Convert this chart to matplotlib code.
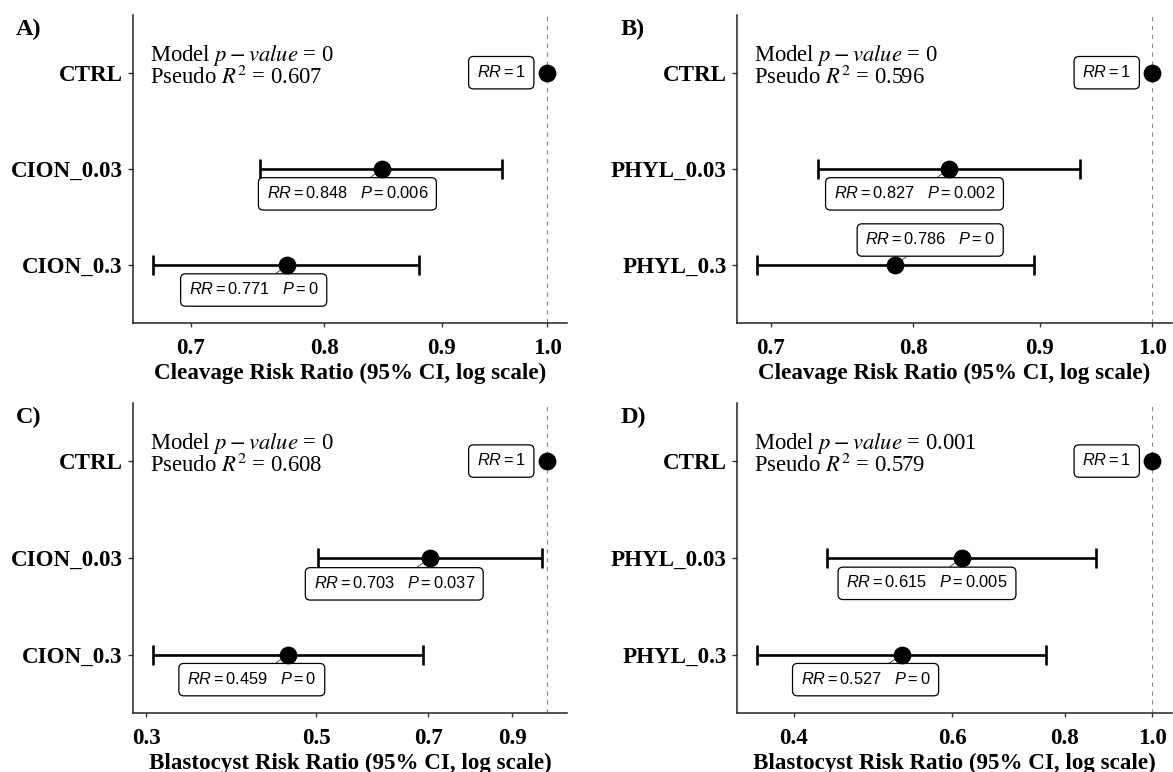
import numpy as np
import matplotlib
matplotlib.use("Agg")
import matplotlib.pyplot as plt
from matplotlib.ticker import FixedLocator, FixedFormatter, NullLocator

plt.rcParams['font.family'] = ['Liberation Serif', 'DejaVu Serif']
plt.rcParams['mathtext.fontset'] = 'custom'
plt.rcParams['mathtext.rm'] = 'Liberation Sans'
plt.rcParams['mathtext.it'] = 'Liberation Sans:italic'
plt.rcParams['mathtext.bf'] = 'Liberation Sans:bold'

# ---------------- data ----------------
panel_tags = ['A)', 'B)', 'C)', 'D)']

cats_A = ['CTRL', 'CION_0.03', 'CION_0.3']
rr_A = [1, 0.848, 0.771]
lo_A = [1, 0.750, 0.674]
hi_A = [1, 0.956, 0.880]
p_A = [None, 0.006, 0]

cats_B = ['CTRL', 'PHYL_0.03', 'PHYL_0.3']
rr_B = [1, 0.827, 0.786]
lo_B = [1, 0.732, 0.691]
hi_B = [1, 0.935, 0.895]
p_B = [None, 0.002, 0]

cats_C = ['CTRL', 'CION_0.03', 'CION_0.3']
rr_C = [1, 0.703, 0.459]
lo_C = [1, 0.502, 0.306]
hi_C = [1, 0.985, 0.689]
p_C = [None, 0.037, 0]

cats_D = ['CTRL', 'PHYL_0.03', 'PHYL_0.3']
rr_D = [1, 0.615, 0.527]
lo_D = [1, 0.436, 0.364]
hi_D = [1, 0.867, 0.763]
p_D = [None, 0.005, 0]

model_p = [0, 0, 0, 0.001]
pseudo_r2 = [0.607, 0.596, 0.608, 0.579]

xlabels = ['Cleavage Risk Ratio (95% CI, log scale)',
           'Cleavage Risk Ratio (95% CI, log scale)',
           'Blastocyst Risk Ratio (95% CI, log scale)',
           'Blastocyst Risk Ratio (95% CI, log scale)']

xticks_A = [0.7, 0.8, 0.9, 1.0]
xticks_B = [0.7, 0.8, 0.9, 1.0]
xticks_C = [0.3, 0.5, 0.7, 0.9]
xticks_D = [0.4, 0.6, 0.8, 1.0]

# ---------------- styling / layout ----------------
W, H = 1173, 772
fig = plt.figure(figsize=(W / 100, H / 100), dpi=100)

axes_px = [(133, 15, 567, 322.7), (737, 15, 1172, 322.7),
           (133, 403, 567, 712.7), (737, 403, 1172, 712.7)]
tag_px = [(16, 35), (621, 35), (16, 423), (621, 423)]
# label offsets in pixels (dx, dy with y down)
offsets = [
    [(-46, 0), (-35, 25), (-33.5, 25)],
    [(-45.5, 0), (-34.5, 25), (35.6, -25)],
    [(-46, 0), (-35.6, 26), (-36, 25)],
    [(-45.5, 0), (-35, 25.5), (-36, 25)],
]

panels = [
    (cats_A, rr_A, lo_A, hi_A, p_A, xticks_A),
    (cats_B, rr_B, lo_B, hi_B, p_B, xticks_B),
    (cats_C, rr_C, lo_C, hi_C, p_C, xticks_C),
    (cats_D, rr_D, lo_D, hi_D, p_D, xticks_D),
]

bold_size = 16.6
spine_col = '#222222'

for i, (cats, rr, lo, hi, pv, xt) in enumerate(panels):
    l, t, r, b = axes_px[i]
    ax = fig.add_axes([l / W, 1 - b / H, (r - l) / W, (b - t) / H])
    n = len(cats)
    y = np.arange(n, 0, -1)  # CTRL on top
    rr = np.array(rr, float)
    lo = np.array(lo, float)
    hi = np.array(hi, float)

    ax.set_xscale('log')
    # ggplot-like 5% expansion in log space
    lmin = np.log(min(lo.min(), rr.min()))
    lmax = np.log(max(hi.max(), rr.max()))
    ext = 0.05 * (lmax - lmin)
    ax.set_xlim(np.exp(lmin - ext), np.exp(lmax + ext))
    ax.set_ylim(0.4, n + 0.6)

    ax.axvline(1.0, color='#8a8a8a', ls=(0, (4, 4)), lw=0.8, zorder=1)

    has_ci = hi > lo
    ax.errorbar(rr[has_ci], y[has_ci],
                xerr=[rr[has_ci] - lo[has_ci], hi[has_ci] - rr[has_ci]],
                fmt='none', ecolor='black', elinewidth=1.9, capsize=7.2,
                capthick=1.9, zorder=3)
    ax.plot(rr, y, 'o', color='black', ms=11.8, zorder=6)

    for j in range(n):
        if pv[j] is None:
            s = rf'$RR = {rr[j]:g}$'
            arrow = None
        else:
            s = rf'$RR = {rr[j]:g}\quad P = {pv[j]:g}$'
            arrow = dict(arrowstyle='-', lw=0.6, color='#333333',
                         shrinkA=0, shrinkB=0)
        dx, dy = offsets[i][j]
        ax.annotate(s, xy=(rr[j], y[j]), xytext=(dx, -dy),
                    textcoords='offset pixels', ha='center', va='center',
                    fontsize=11.8, zorder=5,
                    bbox=dict(boxstyle='round,pad=0.5,rounding_size=0.3',
                              fc='white', ec='black', lw=0.9),
                    arrowprops=arrow)

    ax.text(0.039, 0.852, rf'Model $p - value$ = {model_p[i]:g}',
            transform=ax.transAxes, fontsize=16.3, ha='left', va='baseline',
            math_fontfamily='stix')
    ax.text(0.039, 0.777, rf'Pseudo $R^2$ = {pseudo_r2[i]:g}',
            transform=ax.transAxes, fontsize=16.3, ha='left', va='baseline',
            math_fontfamily='stix')

    ax.xaxis.set_major_locator(FixedLocator(xt))
    ax.xaxis.set_major_formatter(FixedFormatter([f'{v:.1f}' for v in xt]))
    ax.xaxis.set_minor_locator(NullLocator())
    ax.set_yticks(y)
    ax.set_yticklabels(cats)
    for lab in ax.get_xticklabels() + ax.get_yticklabels():
        lab.set_fontweight('bold')
        lab.set_fontsize(bold_size)
    ax.tick_params(axis='x', length=3, width=1.0, color='#333333', pad=8,
                   labelcolor='black')
    ax.tick_params(axis='y', length=3.5, width=1.0, color='#333333', pad=4)
    ax.set_xlabel(xlabels[i], fontsize=bold_size, fontweight='bold',
                  labelpad=3)

    for side in ['top', 'right']:
        ax.spines[side].set_visible(False)
    for side in ['left', 'bottom']:
        ax.spines[side].set_color(spine_col)
        ax.spines[side].set_linewidth(1.1)

    tx, ty = tag_px[i]
    fig.text(tx / W, 1 - ty / H, panel_tags[i], fontsize=17.5,
             fontweight='bold', ha='left', va='baseline')

fig.savefig('out.png', dpi=100, facecolor='white')
